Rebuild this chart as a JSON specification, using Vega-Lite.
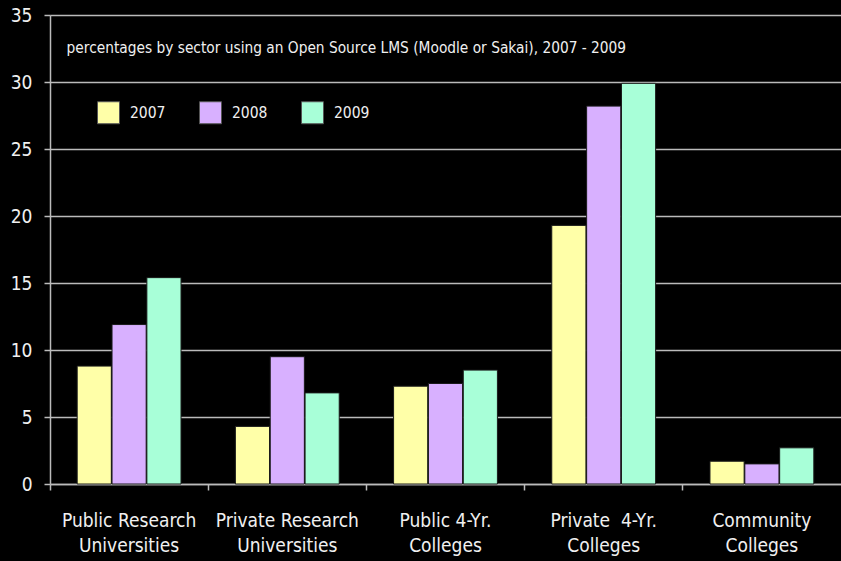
{
  "$schema": "https://vega.github.io/schema/vega-lite/v6.json",
  "autosize": "none",
  "width": 791,
  "height": 469,
  "padding": {"left": 50, "top": 15, "right": 0, "bottom": 77},
  "background": "#000000",
  "config": {
    "view": {"stroke": null},
    "font": "'DejaVu Sans Condensed', 'Liberation Sans', sans-serif"
  },
  "layer": [
    {
      "data": {
        "values": [
          {"sector": "Public Research Universities", "year": "2007", "pct": 8.8},
          {"sector": "Public Research Universities", "year": "2008", "pct": 11.9},
          {"sector": "Public Research Universities", "year": "2009", "pct": 15.4},
          {"sector": "Private Research Universities", "year": "2007", "pct": 4.3},
          {"sector": "Private Research Universities", "year": "2008", "pct": 9.5},
          {"sector": "Private Research Universities", "year": "2009", "pct": 6.8},
          {"sector": "Public 4-Yr. Colleges", "year": "2007", "pct": 7.3},
          {"sector": "Public 4-Yr. Colleges", "year": "2008", "pct": 7.5},
          {"sector": "Public 4-Yr. Colleges", "year": "2009", "pct": 8.5},
          {"sector": "Private  4-Yr. Colleges", "year": "2007", "pct": 19.3},
          {"sector": "Private  4-Yr. Colleges", "year": "2008", "pct": 28.2},
          {"sector": "Private  4-Yr. Colleges", "year": "2009", "pct": 29.9},
          {"sector": "Community Colleges", "year": "2007", "pct": 1.7},
          {"sector": "Community Colleges", "year": "2008", "pct": 1.5},
          {"sector": "Community Colleges", "year": "2009", "pct": 2.7}
        ]
      },
      "mark": {"type": "bar", "stroke": "#1a1a1a", "strokeWidth": 1},
      "encoding": {
        "x": {
          "field": "sector",
          "type": "nominal",
          "sort": null,
          "scale": {"paddingInner": 0, "paddingOuter": 0},
          "axis": {
            "title": null,
            "labelAngle": 0,
            "bandPosition": 0,
            "labelFontSize": 19,
            "labelColor": "#F0F0F0",
            "labelLineHeight": 25,
            "labelPadding": 21,
            "labelExpr": "datum.value == 'Public Research Universities' ? ['Public Research', 'Universities'] : datum.value == 'Private Research Universities' ? ['Private Research', 'Universities'] : datum.value == 'Public 4-Yr. Colleges' ? ['Public 4-Yr.', 'Colleges'] : datum.value == 'Private  4-Yr. Colleges' ? ['Private\u00a0 4-Yr.', 'Colleges'] : ['Community', 'Colleges']",
            "domainColor": "#BBBBBB",
            "domainWidth": 1.5,
            "tickColor": "#BBBBBB",
            "tickWidth": 1.5,
            "tickSize": 6,
            "grid": false
          }
        },
        "xOffset": {
          "field": "year",
          "type": "nominal",
          "scale": {"paddingInner": 0.02, "paddingOuter": 0.78}
        },
        "y": {
          "field": "pct",
          "type": "quantitative",
          "scale": {"domain": [0, 35], "nice": false},
          "axis": {
            "title": null,
            "values": [0, 5, 10, 15, 20, 25, 30, 35],
            "labelFontSize": 19,
            "labelColor": "#F0F0F0",
            "labelPadding": 12,
            "domainColor": "#BBBBBB",
            "domainWidth": 1.5,
            "tickColor": "#BBBBBB",
            "tickWidth": 1.5,
            "tickSize": 6,
            "grid": true,
            "gridColor": "#BBBBBB",
            "gridWidth": 1.5
          }
        },
        "color": {
          "field": "year",
          "type": "nominal",
          "scale": {"domain": ["2007", "2008", "2009"], "range": ["#FFFFA8", "#D8B0FF", "#A8FFD8"]},
          "legend": {
            "title": null,
            "orient": "none",
            "direction": "horizontal",
            "legendX": 47,
            "legendY": 86,
            "padding": 0,
            "symbolType": "square",
            "symbolSize": 484,
            "symbolStrokeColor": "#555555",
            "symbolStrokeWidth": 1,
            "symbolOpacity": 1,
            "labelFontSize": 15.5,
            "labelColor": "#F0F0F0",
            "labelOffset": 10,
            "columnPadding": 31
          }
        }
      }
    },
    {
      "data": {"values": [{"note": "percentages by sector using an Open Source LMS (Moodle or Sakai), 2007 - 2009"}]},
      "mark": {"type": "text", "align": "left", "baseline": "alphabetic", "dx": -62.5, "fontSize": 15.3, "color": "#F0F0F0"},
      "encoding": {
        "x": {"datum": "Public Research Universities"},
        "y": {"datum": 32.14},
        "text": {"field": "note"}
      }
    }
  ]
}
